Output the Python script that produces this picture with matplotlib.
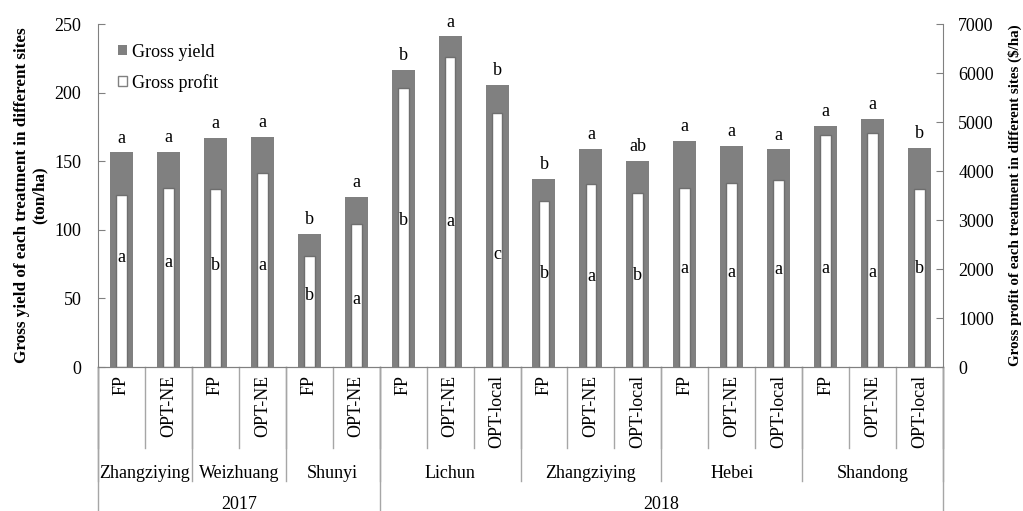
import numpy as np
import matplotlib
matplotlib.use('Agg')
import matplotlib.pyplot as plt
from matplotlib.patches import Patch

plt.rcParams['font.family'] = ['Liberation Serif', 'DejaVu Serif']
plt.rcParams['font.size'] = 13

treatments = ['FP', 'OPT-NE', 'FP', 'OPT-NE', 'FP', 'OPT-NE',
              'FP', 'OPT-NE', 'OPT-local', 'FP', 'OPT-NE', 'OPT-local',
              'FP', 'OPT-NE', 'OPT-local', 'FP', 'OPT-NE', 'OPT-local']
sites = ['Zhangziying', 'Weizhuang', 'Shunyi', 'Lichun', 'Zhangziying', 'Hebei', 'Shandong']
site_sizes = [2, 2, 2, 3, 3, 3, 3]
years = ['2017', '2018']
year_sizes = [6, 12]

gross_yield = [156.5, 157, 167, 168, 97, 124, 216.5, 241, 205.5, 137, 159, 150,
               165, 161, 158.6, 176, 181, 159.6]
gross_profit = [3510, 3660, 3633, 3953, 2259, 2912, 5687, 6320, 5177, 3381, 3741, 3551,
                3653, 3762, 3823, 4741, 4776, 3633]
yield_letters = ['a', 'a', 'a', 'a', 'b', 'a', 'b', 'a', 'b', 'b', 'a', 'ab',
                 'a', 'a', 'a', 'a', 'a', 'b']
profit_letters = ['a', 'a', 'b', 'a', 'b', 'a', 'b', 'a', 'c', 'b', 'a', 'b',
                  'a', 'a', 'a', 'a', 'a', 'b']
# height (on the yield axis) where the profit letters sit inside the white bars
profit_letter_pos = [80, 76, 74, 74, 52, 49, 107, 106, 82, 68, 66, 67,
                     72, 69, 71, 72, 69, 72]

gray = '#808080'
line_gray = '#a6a6a6'

fig = plt.figure(figsize=(10.23, 5.11), dpi=100)
ax = fig.add_axes([0.0958, 0.2818, 0.8260, 0.6712])
ax2 = ax.twinx()

x = np.arange(len(treatments))
ax.bar(x, gross_yield, width=0.49, color=gray, edgecolor='none')
ax2.bar(x, gross_profit, width=0.23, color='white', edgecolor='#6e6e6e', linewidth=1)

ax.set_xlim(-0.5, len(treatments) - 0.5)
ax.set_ylim(0, 250)
ax2.set_ylim(0, 7000)
ax.set_yticks(range(0, 251, 50))
ax2.set_yticks(range(0, 7001, 1000))
ax.set_xticks([])

for a in (ax, ax2):
    a.spines['top'].set_visible(False)
    for s in ('left', 'right', 'bottom'):
        a.spines[s].set_color(gray)
    a.tick_params(axis='y', direction='in', color=gray, length=5, labelsize=13)
ax.tick_params(axis='y', pad=12)
ax2.tick_params(axis='y', pad=11)
ax.spines['right'].set_visible(False)
ax2.spines['left'].set_visible(False)

for xi, h, t in zip(x, gross_yield, yield_letters):
    ax.annotate(t, (xi, h), xytext=(0, 7), textcoords='offset points',
                ha='center', va='baseline', fontsize=13)
for xi, h, t in zip(x, profit_letter_pos, profit_letters):
    ax2.annotate(t, (xi, h * 7000 / 250), ha='center', va='center', fontsize=13)

ax.set_ylabel('Gross yield of each treatment in different sites\n(ton/ha)',
              fontweight='bold', fontsize=12.3, labelpad=5, linespacing=1.15)
ax2.set_ylabel('Gross profit of each treatment in different sites ($/ha)',
               fontweight='bold', fontsize=10.8, labelpad=10)

handles = [Patch(facecolor=gray, edgecolor='none', label='Gross yield'),
           Patch(facecolor='white', edgecolor=gray, label='Gross profit')]
ax.legend(handles=handles, loc='upper left', bbox_to_anchor=(0.004, 0.99),
          frameon=False, handlelength=0.5, handleheight=0.5, handletextpad=0.3,
          labelspacing=0.72, fontsize=13)

# multi-level category axis
tr = ax.get_xaxis_transform()
for xi, t in zip(x, treatments):
    ax.text(xi, -0.022, t, transform=tr, rotation=90, ha='center', va='top', fontsize=13)

site_edges = np.concatenate([[0], np.cumsum(site_sizes)]) - 0.5
year_edges = np.concatenate([[0], np.cumsum(year_sizes)]) - 0.5

for b in np.arange(len(treatments) + 1) - 0.5:
    ax.plot([b, b], [0, -0.236], transform=tr, color=line_gray, lw=1, clip_on=False)
for b in site_edges:
    ax.plot([b, b], [0, -0.332], transform=tr, color=line_gray, lw=1, clip_on=False)
for b in year_edges:
    ax.plot([b, b], [0, -0.45], transform=tr, color=line_gray, lw=1, clip_on=False)

for i, s in enumerate(sites):
    ax.text((site_edges[i] + site_edges[i + 1]) / 2, -0.31, s, transform=tr,
            ha='center', va='center', fontsize=13)
for i, yr in enumerate(years):
    ax.text((year_edges[i] + year_edges[i + 1]) / 2, -0.40, yr, transform=tr,
            ha='center', va='center', fontsize=13)

fig.savefig('out.png', dpi=100)
